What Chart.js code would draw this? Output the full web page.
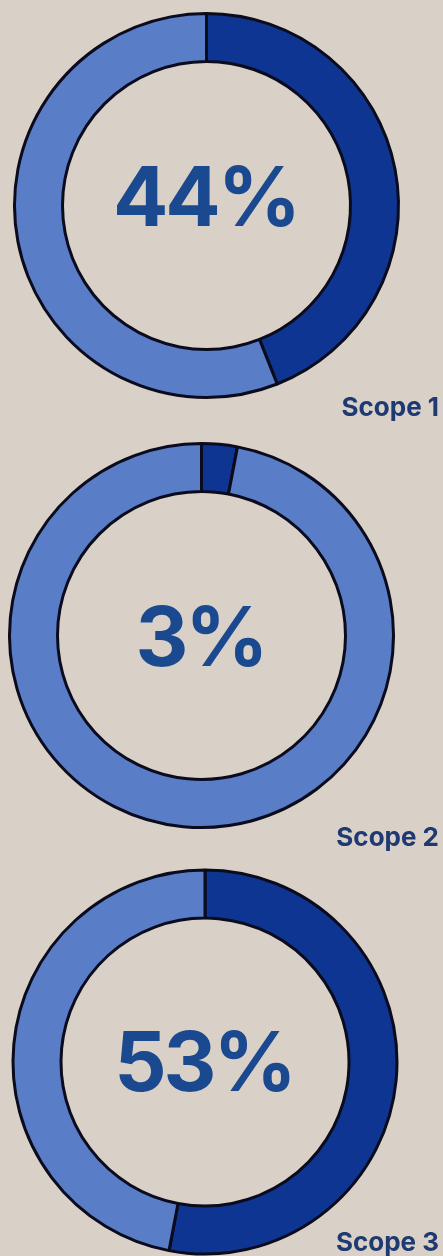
<!DOCTYPE html>
<html>
<head>
<meta charset="utf-8">
<script src="https://cdn.jsdelivr.net/npm/chart.js@4.4.1/dist/chart.umd.min.js"></script>
<style>
  html, body { margin: 0; padding: 0; background: #d9d1c7; }
  body { width: 443px; height: 1256px; position: relative; overflow: hidden; }
  .box { position: absolute; left: 0; width: 443px; }
</style>
</head>
<body>
<div class="box" id="b1" style="top:0px;height:430px"><canvas id="c1"></canvas></div>
<div class="box" id="b2" style="top:430px;height:425px"><canvas id="c2"></canvas></div>
<div class="box" id="b3" style="top:855px;height:401px"><canvas id="c3"></canvas></div>
<script>
// data
var scopes = ["Scope 1", "Scope 2", "Scope 3"];
var shares = [44, 3, 53];
var others = [56, 97, 47];

// layout per chart (padding places the ring, text offsets / label baseline)
var pads = [
  { left: 13, right: 43, top: 12, bottom: 31 },
  { left: 8, right: 48, top: 12, bottom: 26 },
  { left: 11.5, right: 44.5, top: 13.5, bottom: 0.5 }
];
var textShift = [-4, 6, 4];
var labelBase = [416, 416, 396];

var darkBlue = "#0e3591";
var lightBlue = "#5a7dc8";
var ringLine = "#0b0b1e";

var centerText = {
  id: "centerText",
  afterDraw: function(chart) {
    var ctx = chart.ctx;
    var i = chart.options.plugins.centerText.index;
    var arc = chart.getDatasetMeta(0).data[0];
    ctx.save();
    ctx.fillStyle = "#1a4990";
    ctx.font = "700 82px Inter, 'DejaVu Sans', sans-serif";
    ctx.letterSpacing = "-3px";
    ctx.textAlign = "center";
    ctx.textBaseline = "middle";
    ctx.fillText(shares[i] + "%", arc.x - 1, arc.y + textShift[i]);

    ctx.fillStyle = "#1f3a73";
    ctx.font = "700 26px Inter, 'DejaVu Sans', sans-serif";
    ctx.letterSpacing = "0px";
    ctx.textAlign = "right";
    ctx.textBaseline = "alphabetic";
    ctx.fillText(scopes[i], chart.width - 4, labelBase[i]);
    ctx.restore();
  }
};

Chart.register(centerText);

for (var i = 0; i < scopes.length; i++) {
  new Chart(document.getElementById("c" + (i + 1)), {
    type: "doughnut",
    data: {
      labels: [scopes[i], "Other"],
      datasets: [{
        data: [shares[i], others[i]],
        backgroundColor: [darkBlue, lightBlue],
        borderColor: ringLine,
        borderWidth: 3
      }]
    },
    options: {
      responsive: true,
      maintainAspectRatio: false,
      animation: false,
      cutout: "75%",
      layout: { padding: pads[i] },
      plugins: {
        legend: { display: false },
        tooltip: { enabled: false },
        centerText: { index: i }
      }
    }
  });
}
</script>
</body>
</html>
